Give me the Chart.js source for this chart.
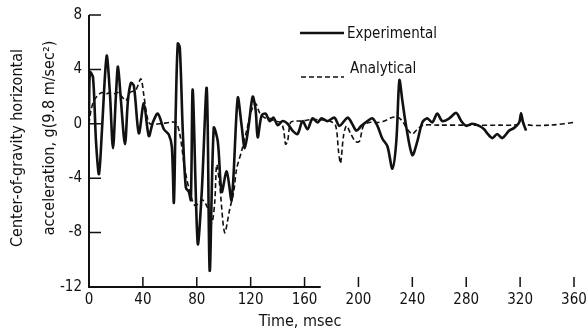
<!DOCTYPE html>
<html>
<head>
<meta charset="utf-8">
<title>CG horizontal acceleration</title>
<script src="https://cdn.jsdelivr.net/npm/chart.js@4.4.1/dist/chart.umd.min.js"></script>
<style>
  html, body { margin: 0; padding: 0; background: #fff; }
  #wrap { width: 587px; height: 334px; }
</style>
</head>
<body>
<div id="wrap"><canvas id="accChart" width="587" height="334"></canvas></div>
<script>
// --- data ---
const xTicks = [0, 40, 80, 120, 160, 200, 240, 280, 320, 360];
const yTicks = [-12, -8, -4, 0, 4, 8];

// Experimental (time in msec, acceleration in g)
const expTime = [0, 0.7, 3, 5.2, 7.4, 9.6, 11.9, 13.3, 15.6, 17.8, 20, 21.5, 23.7, 26.7, 28.9, 31.1, 33.3, 37, 40.7, 44.4,
  47.4, 51.1, 55.6, 59.3, 61.5, 63, 64.4, 65.9, 67.4, 69.6, 71.9, 74.1, 75.6, 77, 80.7, 83.7, 87.4, 89.6, 92.6, 95.6,
  98.5, 102.2, 105.9, 110.4, 113.3, 115.6, 118.5, 121.5, 123.7, 125.2, 128.1, 131.1, 134.1, 137, 140, 143.7, 147.4, 151.1, 154.8, 158.5,
  162.2, 165.9, 169.6, 172.6, 177, 182.2, 185.9, 191.9, 194.8, 198.5, 202.2, 206.7, 210.4, 214.1, 217.8, 221.5, 225.2, 228.1, 230.4, 232.6,
  235.6, 240, 243.7, 247.4, 251.1, 254.8, 258.5, 262.2, 267.4, 272.6, 276.3, 280, 284.4, 289.6, 293.3, 295.6, 299.3, 303, 306.7, 311.9,
  315.6, 319.3, 320.7, 322.2, 324.4];
const expAccel = [0.8, 3.8, 3.4, -1.3, -3.7, -0.5, 3.6, 5.0, 2.1, -1.8, 2.1, 4.2, 1.7, -1.5, 1.7, 3.0, 2.8, -0.7, 1.5, -0.9,
  0.1, 0.75, -0.4, -0.8, -1.7, -5.8, 1.0, 5.9, 5.6, -0.5, -4.7, -5.0, -5.6, 2.5, -8.8, -5.0, 2.6, -10.8, -0.3, -1.3,
  -5.0, -3.5, -5.6, 1.9, -0.15, -1.8, -0.15, 2.0, 1.0, -1.0, 0.6, 0.75, 0.2, 0.45, -0.1, 0.2, 0, -0.5, -0.75, 0.2,
  -0.4, 0.4, 0.1, 0.4, 0.2, 0.45, -0.15, 0.45, 0.1, -0.5, -0.15, 0.2, 0.4, -0.15, -1.1, -1.65, -3.3, -1.3, 3.2, 1.7,
  -0.3, -2.3, -1.3, 0.1, 0.4, 0.1, 0.75, 0.2, 0.4, 0.8, 0.2, -0.15, 0, -0.15, -0.4, -0.7, -1.05, -0.75, -1.05, -0.5,
  -0.3, 0.1, 0.75, 0.1, -0.5];

// Analytical
const anaTime = [0, 1.5, 3.7, 6.7, 9.6, 12.6, 15.6, 18.5, 21.5, 24.4, 27.4, 30.4, 34.8, 38.5, 40.7, 43, 45.2, 52.6, 60, 64.4,
  67.4, 71.1, 74.8, 78.5, 82.2, 84.4, 88.1, 91.1, 93.3, 94.8, 97, 100.7, 104.4, 107.4, 109.6, 113.3, 117, 120.7, 123.7, 126.7,
  130.4, 134.1, 137.8, 142.2, 144.4, 145.9, 147.4, 149.6, 153.3, 157.8, 163.7, 171.1, 178.5, 183, 185.2, 186.7, 188.9, 191.1, 194.1, 197.8,
  200.7, 203.7, 208.1, 214.1, 219.3, 224.4, 228.9, 232.6, 236.3, 240, 243.7, 248.1, 260, 282.2, 304.4, 319.3, 320.7, 322.9, 341.5, 363.7];
const anaAccel = [0, 1.0, 1.7, 2.1, 2.3, 2.2, 2.3, 2.2, 2.3, 2.0, 1.7, 2.3, 2.5, 3.3, 2.1, 0.6, 0, 0, 0.1, 0.1,
  -0.75, -3.3, -5.0, -6.0, -5.8, -5.6, -6.2, -7.3, -5.8, -3.0, -4.5, -8.0, -6.3, -5.0, -3.3, -2.0, -0.5, 1.0, 1.5, 0.8,
  0.45, 0.4, 0.2, 0.1, -0.4, -1.5, -1.3, 0.1, 0.2, 0.2, 0.3, 0.3, 0.2, -0.1, -2.0, -2.9, -0.9, -0.15, -0.7, -1.3,
  -1.3, -0.15, 0.1, 0.1, 0.2, 0.45, 0.5, 0.2, -0.4, -0.75, -0.4, -0.1, -0.1, -0.1, -0.1, 0, 0.8, 0, -0.1, 0.15];

const axisLineEnd = 172; // the bottom axis line stops here (msec)

const FONT = "'DejaVu Sans Condensed', 'DejaVu Sans', sans-serif";
const INK = '#111';

function toPoints(xs, ys) {
  return xs.map((t, i) => ({ x: t, y: ys[i] }));
}

// axis frame, inward ticks, titles and legend
const framePlugin = {
  id: 'frame',
  beforeDatasetsDraw(chart) {
    const { ctx, scales: { x, y } } = chart;
    const x0 = x.getPixelForValue(0);
    const yb = y.getPixelForValue(-12);
    const yt = y.getPixelForValue(8);
    ctx.save();
    ctx.strokeStyle = INK;
    ctx.lineWidth = 2;
    ctx.beginPath();
    ctx.moveTo(x0, yt);
    ctx.lineTo(x0, yb);
    ctx.lineTo(x.getPixelForValue(axisLineEnd), yb);
    ctx.stroke();

    ctx.lineWidth = 1.5;
    ctx.beginPath();
    yTicks.forEach(v => {
      const p = y.getPixelForValue(v);
      ctx.moveTo(x0, p);
      ctx.lineTo(x0 + 12, p);
    });
    xTicks.forEach(v => {
      if (v === 0) return;
      const p = x.getPixelForValue(v);
      ctx.moveTo(p, yb);
      ctx.lineTo(p, yb - 10);
    });
    ctx.stroke();
    ctx.restore();
  },
  afterDraw(chart) {
    const { ctx } = chart;
    ctx.save();
    ctx.fillStyle = INK;
    ctx.strokeStyle = INK;
    ctx.font = '16px ' + FONT;
    ctx.textBaseline = 'middle';

    // x title
    ctx.textAlign = 'center';
    ctx.fillText('Time, msec', 300, 322);

    // y title, two rotated lines
    ctx.save();
    ctx.translate(18, 148);
    ctx.rotate(-Math.PI / 2);
    ctx.fillText('Center-of-gravity horizontal', 0, 0);
    ctx.restore();
    ctx.save();
    ctx.translate(50, 138);
    ctx.rotate(-Math.PI / 2);
    ctx.fillText('acceleration, g(9.8 m/sec\u00B2)', 0, 0);
    ctx.restore();

    // legend
    ctx.font = '15px ' + FONT;
    ctx.textAlign = 'left';
    ctx.lineWidth = 2.6;
    ctx.beginPath();
    ctx.moveTo(300, 33);
    ctx.lineTo(344, 33);
    ctx.stroke();
    ctx.fillText('Experimental', 347, 34);

    ctx.lineWidth = 1.6;
    ctx.setLineDash([5, 3]);
    ctx.beginPath();
    ctx.moveTo(301, 77);
    ctx.lineTo(344, 77);
    ctx.stroke();
    ctx.setLineDash([]);
    ctx.fillText('Analytical', 350, 69);
    ctx.restore();
  }
};

const tickFont = { family: FONT, size: 15 };

new Chart(document.getElementById('accChart'), {
  type: 'line',
  data: {
    datasets: [
      {
        label: 'Experimental',
        data: toPoints(expTime, expAccel),
        borderColor: INK,
        borderWidth: 2.6,
        pointRadius: 0,
        tension: 0.3,
        fill: false
      },
      {
        label: 'Analytical',
        data: toPoints(anaTime, anaAccel),
        borderColor: INK,
        borderWidth: 1.6,
        borderDash: [5, 3],
        pointRadius: 0,
        tension: 0.3,
        fill: false
      }
    ]
  },
  options: {
    responsive: false,
    animation: false,
    layout: { padding: { left: 0, right: 13, top: 15, bottom: 0 } },
    plugins: {
      legend: { display: false },
      tooltip: { enabled: false }
    },
    scales: {
      x: {
        type: 'linear',
        min: 0,
        max: 360,
        afterBuildTicks: s => { s.ticks = xTicks.map(v => ({ value: v })); },
        afterFit: s => { s.height = 47; s.paddingLeft = 0; s.paddingRight = 0; },
        grid: { display: false, drawTicks: false },
        border: { display: false },
        ticks: { font: tickFont, color: INK, padding: 4, maxRotation: 0, autoSkip: false }
      },
      y: {
        min: -12,
        max: 8,
        afterBuildTicks: s => { s.ticks = yTicks.map(v => ({ value: v })); },
        afterFit: s => { s.width = 89; s.paddingTop = 0; s.paddingBottom = 0; },
        grid: { display: false, drawTicks: false },
        border: { display: false },
        ticks: { font: tickFont, color: INK, padding: 7 }
      }
    }
  },
  plugins: [framePlugin]
});
</script>
</body>
</html>
